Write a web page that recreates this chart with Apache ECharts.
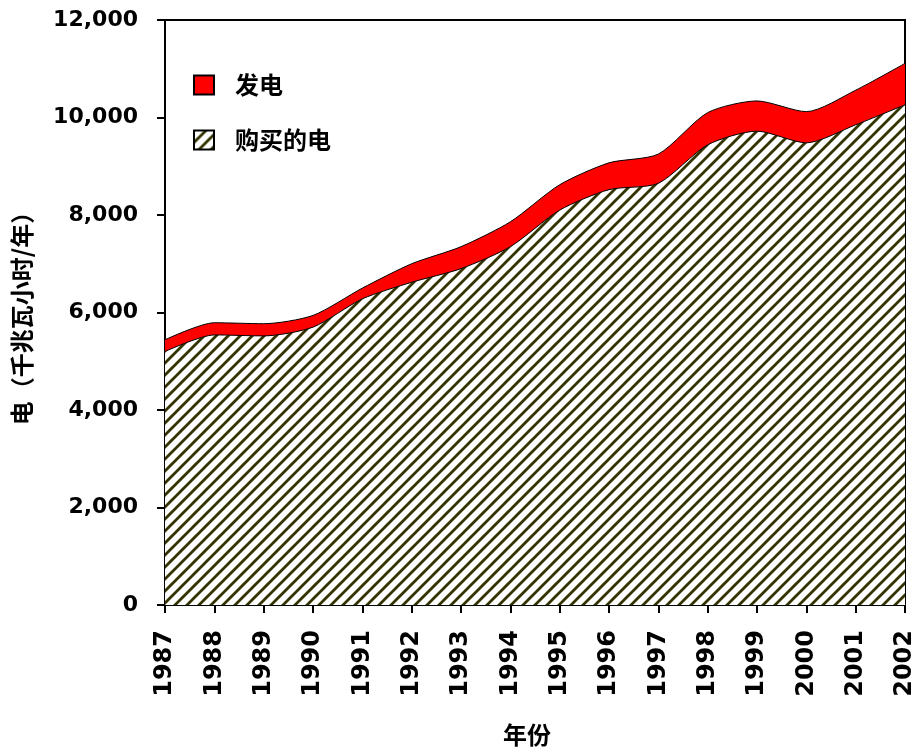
<!DOCTYPE html>
<html>
<head>
<meta charset="utf-8">
<script src="https://cdn.jsdelivr.net/npm/echarts@6/dist/echarts.min.js"></script>
<style>html,body{margin:0;padding:0;background:#fff}#c{width:920px;height:755px}</style>
</head>
<body>
<div id="c"></div>
<script>
var years = ['1987','1988','1989','1990','1991','1992','1993','1994','1995','1996','1997','1998','1999','2000','2001','2002'];
var purchased = [5200, 5540, 5520, 5700, 6280, 6620, 6900, 7350, 8100, 8520, 8650, 9440, 9720, 9480, 9850, 10260];
var generated = [240, 250, 250, 240, 220, 380, 450, 510, 520, 550, 600, 660, 620, 640, 710, 850];
var yTicks = [0, 2000, 4000, 6000, 8000, 10000, 12000];

function hatch() {
  var s = 12, c = document.createElement('canvas');
  c.width = s; c.height = s;
  var g = c.getContext('2d');
  g.fillStyle = '#ffffff'; g.fillRect(0, 0, s, s);
  g.strokeStyle = '#333300'; g.lineWidth = 2.8;
  g.beginPath();
  g.moveTo(-2, s + 2); g.lineTo(s + 2, -2);
  g.moveTo(-2, 2); g.lineTo(2, -2);
  g.moveTo(s - 2, s + 2); g.lineTo(s + 2, s - 2);
  g.stroke();
  return c;
}
var hatchPat = { image: hatch(), repeat: 'repeat' };

var numFont = 'DejaVu Sans';
var cjkFont = 'Noto Sans CJK SC';

var chart = echarts.init(document.getElementById('c'));
chart.setOption({
  animation: false,
  backgroundColor: '#fff',
  grid: { left: 165, right: 15, top: 20, bottom: 150, containLabel: false, outerBoundsMode: 'none',
    show: true, borderColor: '#000', borderWidth: 2, backgroundColor: 'transparent' },
  legend: {
    orient: 'vertical', left: 193, top: 73, padding: 0,
    itemWidth: 20, itemHeight: 19, itemGap: 31, icon: 'rect',
    data: ['发电', '购买的电'],
    textStyle: { fontFamily: cjkFont, fontSize: 24, fontWeight: 'bold', color: '#000', padding: [0, 0, 0, 16] }
  },
  xAxis: {
    type: 'category', data: years, boundaryGap: false,
    name: '年份', nameLocation: 'middle', nameGap: 118,
    nameTextStyle: { fontFamily: cjkFont, fontSize: 24, fontWeight: 'bold', color: '#000', padding: [0, 16, 0, 0] },
    axisLine: { lineStyle: { color: '#000', width: 2 } },
    axisTick: { show: true, length: 8, lineStyle: { color: '#000', width: 2 } },
    axisLabel: { rotate: 90, margin: 25, fontFamily: numFont, fontSize: 24, fontWeight: 'bold', color: '#000', interval: 0 },
    splitLine: { show: false }
  },
  yAxis: {
    type: 'value', min: 0, max: 12000, interval: 2000,
    name: '电（千兆瓦小时/年）', nameLocation: 'middle', nameGap: 131, nameRotate: 90,
    nameTextStyle: { fontFamily: cjkFont, fontSize: 24, fontWeight: 'bold', color: '#000' },
    axisLine: { show: true, lineStyle: { color: '#000', width: 2 } },
    axisTick: { show: true, length: 8, lineStyle: { color: '#000', width: 2 } },
    axisLabel: { margin: 27, fontFamily: numFont, fontSize: 22, fontWeight: 'bold', color: '#000',
      formatter: function (v) { return yTicks.indexOf(v) >= 0 ? v.toLocaleString('en-US') : ''; } },
    splitLine: { show: false }
  },
  series: [
    {
      name: '购买的电', type: 'line', stack: 'total', data: purchased, smooth: 0.25,
      symbol: 'none', lineStyle: { color: '#000', width: 1 },
      itemStyle: { color: hatchPat, borderColor: '#000', borderWidth: 1 },
      areaStyle: { color: hatchPat, opacity: 1 }
    },
    {
      name: '发电', type: 'line', stack: 'total', data: generated, smooth: 0.25,
      symbol: 'none', lineStyle: { color: '#000', width: 1 },
      itemStyle: { color: '#ff0000', borderColor: '#000', borderWidth: 1 },
      areaStyle: { color: '#ff0000', opacity: 1 }
    }
  ]
});
</script>
</body>
</html>
